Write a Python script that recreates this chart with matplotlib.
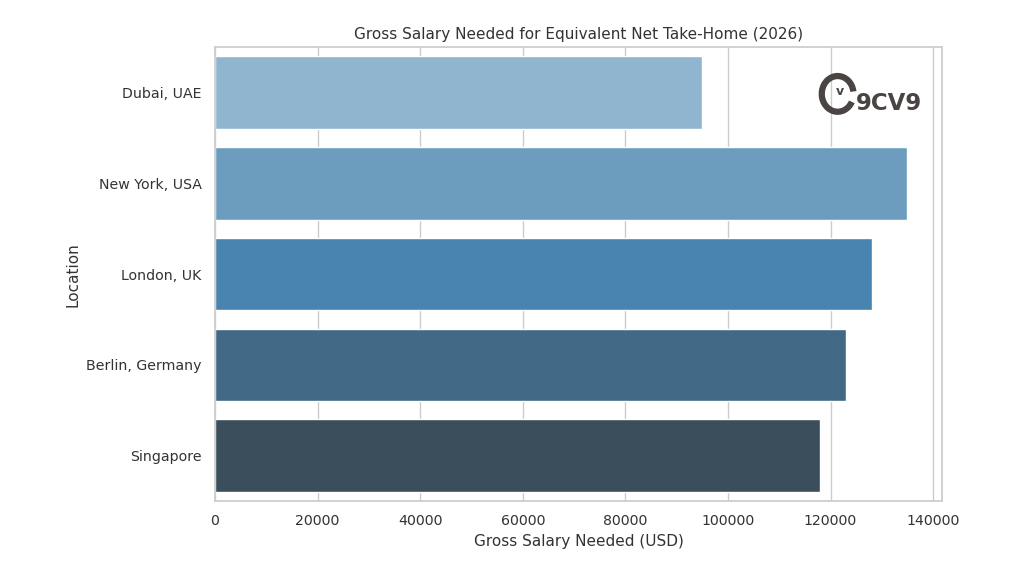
import matplotlib
matplotlib.use("Agg")
import matplotlib.pyplot as plt
import seaborn as sns
from matplotlib.patches import Arc

# Data
locations = ["Dubai, UAE", "New York, USA", "London, UK", "Berlin, Germany", "Singapore"]
gross_salary = [95000, 135000, 128000, 123000, 118000]

sns.set_theme(style="whitegrid")
plt.rcParams['font.family'] = ['DejaVu Sans']

fig, ax = plt.subplots(figsize=(10.24, 5.76), dpi=100)
fig.subplots_adjust(left=0.21, right=0.92, top=0.918, bottom=0.130)

sns.barplot(x=gross_salary, y=locations, hue=locations, palette="Blues_d",
            legend=False, ax=ax)

ax.set_title("Gross Salary Needed for Equivalent Net Take-Home (2026)", fontsize=11, color="#333333")
ax.set_xlabel("Gross Salary Needed (USD)", fontsize=11, color="#333333")
ax.set_ylabel("Location", fontsize=11, color="#333333")
ax.tick_params(axis="both", labelsize=10.2, colors="#333333")
ax.ticklabel_format(axis="x", style="plain")

# watermark logo
logo_col = "#4a4443"
fig.patches.append(Arc((0.818, 0.837), 0.031, 0.062, theta1=15, theta2=315,
                       lw=4.5, color=logo_col, transform=fig.transFigure))
fig.text(0.820, 0.842, "v", fontsize=9, fontweight="bold", color=logo_col,
         ha="center", va="center")
fig.text(0.836, 0.809, "9CV9", fontsize=16.5, fontweight="bold", color=logo_col,
         ha="left", va="baseline")

fig.savefig("out.png", dpi=100)
